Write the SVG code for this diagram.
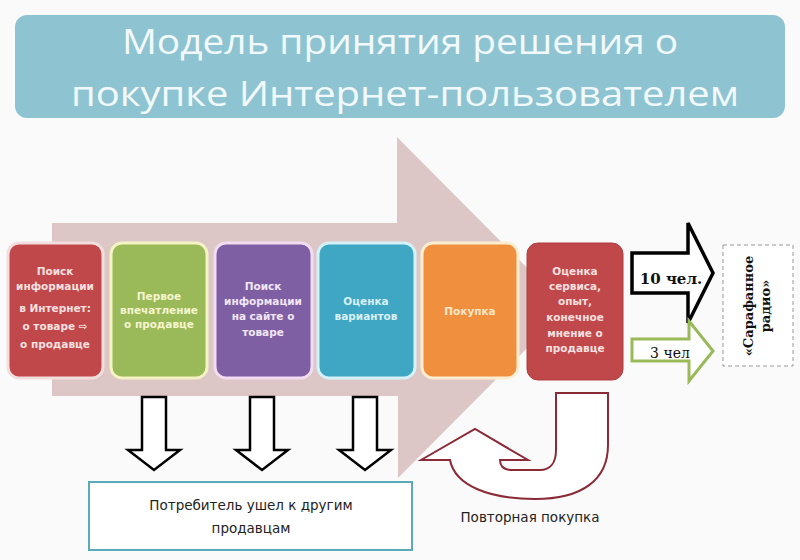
<svg xmlns="http://www.w3.org/2000/svg" width="800" height="560" viewBox="0 0 800 560">
<defs>
<style>
.box{stroke-width:3}
.bt{font-family:"DejaVu Sans",sans-serif;font-size:10.5px;font-weight:bold;text-anchor:middle}
.dn{fill:#fff;stroke:#000;stroke-width:2.5;stroke-linejoin:miter}
.lbl{font-family:"DejaVu Sans",sans-serif;font-size:13.5px;fill:#222;text-anchor:middle}
.ser{font-family:"DejaVu Serif","Liberation Serif",serif;fill:#111}
</style>
</defs>
<rect width="800" height="560" fill="#fafafa"/>
<g id="title">
<rect x="15" y="15" width="770" height="103" rx="12" fill="#8ec4d2"/>
<text x="400" y="54" font-family="'Open Sans',sans-serif" font-size="34" fill="#f2f9fb" text-anchor="middle" textLength="556" lengthAdjust="spacingAndGlyphs">Модель принятия решения о</text>
<text x="405" y="106" font-family="'Open Sans',sans-serif" font-size="34" fill="#f2f9fb" text-anchor="middle" textLength="668" lengthAdjust="spacingAndGlyphs">покупке Интернет-пользователем</text>
</g>
<g id="big-arrow">
<path d="M52,223 L397,223 L397,137 L567,308 L398,478 L398,396 L52,396 Z" fill="#dcc6c6"/>
</g>
<g id="step1">
<rect class="box" x="8" y="243" width="95" height="135" rx="11" fill="#c0474a" stroke="#f3dede"/>
<text class="bt" fill="#f8e0e0"><tspan x="55" y="275">Поиск</tspan><tspan x="55" y="290">информации</tspan><tspan x="55" y="312">в Интернет:</tspan><tspan x="55" y="330">о товаре ⇨</tspan><tspan x="55" y="348">о продавце</tspan></text>
</g>
<g id="step2">
<rect class="box" x="111" y="243" width="96" height="135" rx="11" fill="#9aba59" stroke="#f4f3c4"/>
<text class="bt" fill="#f5f4cf"><tspan x="159" y="300">Первое</tspan><tspan x="159" y="314">впечатление</tspan><tspan x="159" y="328">о продавце</tspan></text>
</g>
<g id="step3">
<rect class="box" x="215" y="243" width="97" height="135" rx="11" fill="#7f5fa3" stroke="#f1dcf2"/>
<text class="bt" fill="#f1e6f6"><tspan x="263" y="290">Поиск</tspan><tspan x="263" y="305">информации</tspan><tspan x="263" y="320">на сайте о</tspan><tspan x="263" y="336">товаре</tspan></text>
</g>
<g id="step4">
<rect class="box" x="318" y="243" width="97" height="135" rx="11" fill="#3fa6c3" stroke="#d4f2f8"/>
<text class="bt" fill="#d8f0f6"><tspan x="366" y="305">Оценка</tspan><tspan x="366" y="320">вариантов</tspan></text>
</g>
<g id="step5">
<rect class="box" x="422" y="243" width="96" height="135" rx="11" fill="#f0903e" stroke="#fbeed0"/>
<text class="bt" fill="#fbe6c6"><tspan x="470" y="315">Покупка</tspan></text>
</g>
<g id="step6">
<rect x="527" y="243" width="96" height="137" rx="11" fill="#c0474a" stroke="#b03c40" stroke-width="1"/>
<text class="bt" fill="#f8e0e0"><tspan x="575" y="275">Оценка</tspan><tspan x="575" y="290">сервиса,</tspan><tspan x="575" y="305">опыт,</tspan><tspan x="575" y="321">конечное</tspan><tspan x="575" y="337">мнение о</tspan><tspan x="575" y="352">продавце</tspan></text>
</g>
<g id="connectors">
<path class="dn" d="M142,397 L166,397 L166,450 L180,450 L154,470 L128,450 L142,450 Z"/>
<path class="dn" d="M250,397 L274,397 L274,450 L288,450 L262,470 L236,450 L250,450 Z"/>
<path class="dn" d="M353,397 L377,397 L377,450 L391,450 L365,470 L339,450 L353,450 Z"/>
<path d="M421,460 L475,429 L528,460 L500,460 C500,467 504,470 512,470 L540,470 C550,470 556,463 556,450 L556,393 L608,393 L608,445 C608,480 582,499 535,499 C490,499 455,486 450,460 Z" fill="#fff" stroke="#8a2a36" stroke-width="2"/>
<path d="M632,253 L688,253 L688,223 L713,273 L688,323 L688,293 L632,293 Z" fill="#fff" stroke="#000" stroke-width="3.5"/>
<path d="M632,339 L689,339 L689,321 L713,351 L689,381 L689,361 L632,361 Z" fill="#fff" stroke="#9aba59" stroke-width="3"/>
</g>
<text class="ser" x="671" y="284" font-size="15" font-weight="bold" text-anchor="middle">10 чел.</text>
<text class="ser" x="670" y="358" font-size="14" text-anchor="middle">3 чел</text>
<g id="radio">
<rect x="723" y="245" width="70" height="121" fill="#fff" stroke="#999" stroke-width="1" stroke-dasharray="4,3"/>
<text class="ser" font-size="13" font-weight="bold" text-anchor="middle" transform="translate(758,306) rotate(-90)"><tspan x="0" y="-5">«Сарафанное</tspan><tspan x="0" y="12">радио»</tspan></text>
</g>
<g id="left-box">
<rect x="89" y="482" width="323" height="68" fill="#fff" stroke="#5aaab8" stroke-width="2"/>
<text class="lbl"><tspan x="251" y="510">Потребитель ушел к другим</tspan><tspan x="251" y="533">продавцам</tspan></text>
</g>
<text class="lbl" x="530" y="522">Повторная покупка</text>
</svg>
